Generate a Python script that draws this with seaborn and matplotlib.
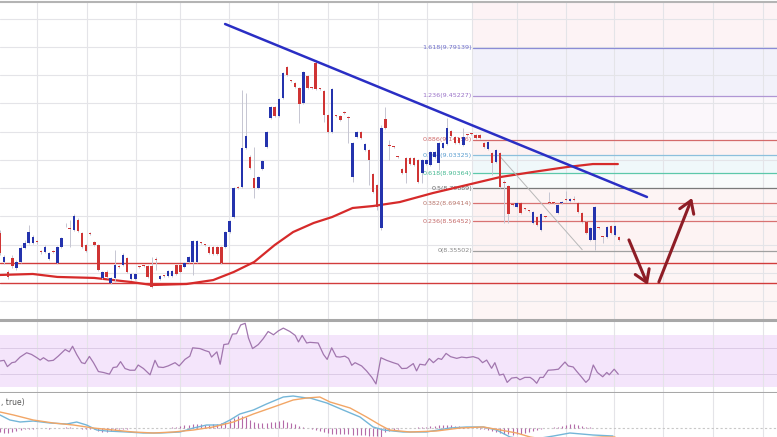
"""
Candlestick chart with Fibonacci levels, RSI and MACD panels.
"""
import numpy as np
import pandas as pd
import matplotlib
matplotlib.use('Agg')
import matplotlib.pyplot as plt
import seaborn as sns

# ---- price candles (open, high, low, close), one per bar index ----
opens = [8.482, 8.277, 8.206, 8.305, 8.234, 8.277, 8.376, 8.411, 8.411, 8.420,
         8.350, 8.348, 8.298, 8.350, 8.270, 8.383, 8.542, 8.512, 8.503, 8.574,
         8.482, 8.397, 8.477, 8.418, 8.397, 8.164, 8.206, 8.128, 8.164, 8.243,
         8.256, 8.305, 8.157, 8.157, 8.243, 8.251, 8.249, 8.249, 8.293, 8.157,
         8.180, 8.178, 8.178, 8.256, 8.256, 8.241, 8.277, 8.277, 8.277, 8.413,
         8.399, 8.383, 8.383, 8.383, 8.383, 8.383, 8.489, 8.595, 8.803, 8.808,
         9.084, 9.020, 8.871, 8.801, 8.935, 9.091, 9.296, 9.374, 9.310, 9.437,
         9.657, 9.560, 9.544, 9.508, 9.402, 9.593, 9.510, 9.685, 9.503, 9.487,
         9.317, 9.197, 9.312, 9.310, 9.338, 9.303, 8.878, 9.161, 9.197, 9.069,
         9.069, 8.900, 8.822, 8.517, 9.289, 9.100, 9.093, 9.022, 8.935, 9.013,
         9.013, 9.013, 8.999, 8.907, 8.970, 8.963, 9.020, 8.977, 9.084, 9.112,
         9.204, 9.161, 9.154, 9.105, 9.178, 9.185, 9.176, 9.176, 9.119, 9.077,
         9.048, 8.985, 9.048, 8.838, 8.815, 8.682, 8.666, 8.694, 8.654, 8.640,
         8.553, 8.595, 8.503, 8.597, 8.696, 8.697, 8.624, 8.694, 8.718, 8.709,
         8.723, 8.694, 8.624, 8.560, 8.433, 8.433, 8.519, 8.456, 8.454, 8.532,
         8.468, 8.454]
highs = [8.503, 8.326, 8.220, 8.326, 8.291, 8.390, 8.433, 8.539, 8.468, 8.433,
         8.362, 8.397, 8.348, 8.362, 8.390, 8.454, 8.553, 8.574, 8.617, 8.588,
         8.489, 8.404, 8.489, 8.425, 8.404, 8.213, 8.220, 8.171, 8.362, 8.256,
         8.341, 8.312, 8.199, 8.199, 8.249, 8.256, 8.256, 8.312, 8.312, 8.185,
         8.185, 8.220, 8.220, 8.263, 8.263, 8.277, 8.319, 8.433, 8.433, 8.418,
         8.404, 8.390, 8.390, 8.390, 8.390, 8.496, 8.574, 8.808, 8.815, 9.494,
         9.473, 9.034, 9.091, 8.885, 8.999, 9.204, 9.381, 9.381, 9.437, 9.621,
         9.664, 9.565, 9.551, 9.515, 9.628, 9.600, 9.515, 9.706, 9.508, 9.494,
         9.324, 9.508, 9.317, 9.317, 9.345, 9.310, 9.126, 9.204, 9.204, 9.119,
         9.077, 8.907, 8.829, 9.247, 9.374, 9.140, 9.098, 9.027, 8.942, 9.020,
         9.020, 9.020, 9.006, 9.006, 9.006, 9.062, 9.062, 9.126, 9.126, 9.296,
         9.211, 9.169, 9.161, 9.225, 9.183, 9.190, 9.183, 9.183, 9.126, 9.133,
         9.055, 9.077, 9.055, 8.857, 8.822, 8.687, 8.701, 8.701, 8.659, 8.645,
         8.638, 8.602, 8.624, 8.602, 8.772, 8.701, 8.687, 8.709, 8.779, 8.730,
         8.744, 8.701, 8.631, 8.567, 8.525, 8.673, 8.525, 8.461, 8.532, 8.539,
         8.539, 8.461]
lows = [8.326, 8.263, 8.157, 8.234, 8.220, 8.270, 8.369, 8.404, 8.404, 8.404,
        8.333, 8.341, 8.291, 8.341, 8.263, 8.376, 8.525, 8.383, 8.496, 8.489,
        8.376, 8.348, 8.468, 8.390, 8.213, 8.157, 8.164, 8.121, 8.135, 8.234,
        8.249, 8.199, 8.150, 8.150, 8.234, 8.241, 8.164, 8.093, 8.220, 8.150,
        8.171, 8.171, 8.171, 8.185, 8.199, 8.234, 8.270, 8.185, 8.270, 8.404,
        8.390, 8.333, 8.326, 8.326, 8.263, 8.376, 8.482, 8.588, 8.794, 8.801,
        9.077, 8.935, 8.730, 8.794, 8.928, 9.084, 9.289, 9.303, 9.303, 9.430,
        9.593, 9.551, 9.508, 9.261, 9.395, 9.501, 9.501, 9.494, 9.494, 9.268,
        9.190, 9.190, 9.303, 9.275, 9.324, 9.119, 8.843, 9.154, 9.147, 9.062,
        8.822, 8.765, 8.645, 8.503, 9.218, 8.999, 9.084, 9.013, 8.900, 8.836,
        8.963, 8.956, 8.836, 8.836, 8.963, 8.956, 9.013, 8.928, 9.077, 9.105,
        9.161, 9.112, 9.112, 9.098, 9.169, 9.176, 9.147, 9.147, 9.084, 9.069,
        8.893, 8.977, 8.801, 8.553, 8.553, 8.673, 8.659, 8.617, 8.645, 8.631,
        8.546, 8.532, 8.496, 8.588, 8.687, 8.687, 8.617, 8.687, 8.709, 8.701,
        8.709, 8.624, 8.553, 8.475, 8.425, 8.362, 8.510, 8.411, 8.447, 8.475,
        8.461, 8.425]
closes = [8.341, 8.312, 8.171, 8.249, 8.277, 8.376, 8.411, 8.489, 8.454, 8.416,
          8.346, 8.383, 8.341, 8.346, 8.383, 8.447, 8.536, 8.508, 8.602, 8.496,
          8.383, 8.355, 8.473, 8.397, 8.220, 8.206, 8.171, 8.164, 8.256, 8.239,
          8.326, 8.206, 8.192, 8.192, 8.239, 8.247, 8.171, 8.100, 8.289, 8.178,
          8.176, 8.213, 8.213, 8.192, 8.206, 8.270, 8.312, 8.425, 8.425, 8.409,
          8.395, 8.341, 8.333, 8.333, 8.270, 8.489, 8.567, 8.801, 8.799, 9.084,
          9.169, 8.942, 8.801, 8.878, 8.992, 9.197, 9.374, 9.310, 9.430, 9.614,
          9.600, 9.556, 9.515, 9.395, 9.621, 9.508, 9.506, 9.501, 9.499, 9.317,
          9.197, 9.501, 9.308, 9.282, 9.331, 9.296, 9.119, 9.197, 9.154, 9.112,
          8.999, 8.772, 8.666, 9.225, 9.225, 9.096, 9.089, 9.018, 8.907, 8.907,
          8.970, 8.963, 8.843, 8.999, 8.999, 9.055, 9.055, 9.119, 9.119, 9.225,
          9.169, 9.119, 9.119, 9.161, 9.174, 9.181, 9.154, 9.154, 9.091, 9.126,
          8.977, 9.069, 8.808, 8.834, 8.617, 8.678, 8.694, 8.624, 8.650, 8.636,
          8.631, 8.539, 8.617, 8.593, 8.692, 8.692, 8.680, 8.701, 8.714, 8.723,
          8.716, 8.631, 8.560, 8.482, 8.517, 8.666, 8.515, 8.452, 8.525, 8.482,
          8.532, 8.433]

# moving average (red curve), read at bar positions
sma_idx = [0, 8, 14, 23, 32, 37, 45.5, 52, 57, 62, 67, 71.5, 76.5, 81, 86, 91,
           97.5, 105.6, 113.9, 122, 130, 138.3, 144.6, 150.7]
sma_val = [8.185, 8.192, 8.171, 8.164, 8.135, 8.114, 8.121, 8.149, 8.206, 8.277,
           8.397, 8.489, 8.553, 8.595, 8.659, 8.673, 8.701, 8.765, 8.822, 8.878,
           8.914, 8.949, 8.970, 8.970]

# Fibonacci levels
fib_ratios = ['0', '0.236', '0.382', '0.5', '0.618', '0.764', '0.886', '1.236', '1.618']
fib_prices = [8.35502, 8.56452, 8.69414, 8.79889, 8.90364, 9.03325, 9.14156, 9.45227, 9.79139]
fib_colors = ['#a0a0a0', '#d87272', '#d87272', '#7a7a7a', '#5cc8aa', '#8cc0dc',
              '#d46a6a', '#b096d4', '#8c8cd6']
fib_text_colors = ['#888888', '#c46a6a', '#b8746a', '#666666', '#44b890', '#5a9ed0',
                   '#d06a6a', '#9a72c8', '#7070cc']
fib_band_colors = ['#fdf3f3', '#fdf2f2', '#fdf4f4', '#f8fbfb', '#f0f8fa', '#fdf2f2',
                   '#fbf7fb', '#f2f1fa']
fib_top_color = '#fdf3f5'
fib_below_color = '#fdf5f5'
fib_start = 115.4

support_prices = [8.270, 8.128]
trend_idx = [54.9, 157.8]
trend_price = [9.961, 8.737]
retrace_idx = [122, 142]
retrace_price = [9.022, 8.364]
arrow_down_idx = [153.4, 158.0]
arrow_down_price = [8.433, 8.114]
arrow_up_idx = [160.7, 168.8]
arrow_up_price = [8.135, 8.730]

grid_idx = [9.0, 21.2, 33.2, 43.9, 55.9, 67.8, 80.0, 92.2, 104.1, 115.1, 126.1,
            138.0, 149.8, 161.7, 173.9, 186.1]
price_grid = [7.8, 8.0, 8.2, 8.4, 8.6, 8.8, 9.0, 9.2, 9.4, 9.6, 9.8, 10.0]

# RSI
rsi_idx = [0, 1.0, 1.8, 2.9, 3.7, 4.9, 6.5, 7.7, 9.0, 9.8, 10.6, 11.8, 13.0, 14.2,
           15.9, 16.9, 17.7, 18.7, 19.9, 20.7, 21.8, 22.8, 24.0, 25.2, 26.7, 27.6,
           28.5, 29.4, 30.5, 31.7, 32.9, 33.7, 35.0, 36.6, 37.8, 38.6, 39.8, 41.0,
           42.7, 43.7, 45.1, 46.3, 47.0, 48.8, 50.0, 51.0, 51.6, 52.9, 53.7, 54.6,
           55.7, 56.7, 57.7, 58.7, 59.8, 60.6, 61.6, 63.0, 64.2, 65.4, 66.7, 67.9,
           69.1, 70.7, 72.0, 72.8, 73.7, 74.8, 75.6, 77.6, 78.9, 79.8, 80.9, 82.0,
           82.9, 84.1, 85.0, 85.8, 86.6, 88.2, 89.4, 90.7, 91.7, 92.9, 94.3, 95.9,
           97.1, 98.0, 99.2, 100.8, 101.6, 102.4, 103.7, 104.7, 105.7, 106.9, 107.7,
           108.8, 109.9, 111.4, 112.6, 113.8, 115.4, 116.7, 117.7, 118.7, 119.9,
           120.7, 121.8, 122.8, 123.7, 124.8, 126.0, 126.8, 128.0, 129.3, 130.1,
           130.9, 131.7, 132.5, 133.7, 135.0, 136.2, 137.8, 138.6, 139.8, 140.7,
           141.6, 142.9, 143.7, 144.7, 145.7, 147.0, 148.0, 148.6, 149.8, 150.8]
rsi_val = [49.9, 50.4, 45.6, 48.6, 49.1, 52.9, 56.2, 54.9, 52.4, 50.6, 52.4, 49.9,
           50.4, 53.6, 58.7, 56.9, 61.2, 54.9, 48.6, 47.9, 53.4, 48.6, 41.8, 41.1,
           39.8, 44.9, 45.3, 49.4, 44.1, 42.8, 42.8, 46.8, 44.1, 39.3, 50.4, 45.3,
           44.9, 46.1, 48.6, 46.1, 51.1, 53.6, 60.0, 59.4, 57.9, 56.9, 52.9, 56.9,
           47.4, 62.5, 63.0, 70.5, 70.8, 77.5, 78.8, 67.5, 59.4, 62.5, 67.0, 72.5,
           70.0, 73.0, 75.1, 72.5, 69.5, 64.5, 69.5, 63.7, 64.2, 63.7, 54.9, 51.1,
           60.0, 53.2, 52.9, 53.6, 51.9, 46.6, 48.6, 46.1, 42.3, 37.3, 32.3, 52.4,
           50.4, 48.6, 47.4, 44.1, 44.3, 47.9, 42.3, 47.4, 46.8, 51.7, 48.6, 51.9,
           51.1, 55.7, 53.2, 51.9, 52.9, 52.4, 53.2, 51.9, 48.6, 50.6, 44.3, 48.6,
           39.1, 39.8, 33.5, 36.8, 37.3, 35.5, 37.3, 37.3, 35.5, 32.8, 37.3, 37.3,
           42.8, 43.1, 43.6, 49.1, 46.1, 45.3, 41.8, 38.5, 33.5, 36.0, 46.8, 41.1,
           37.8, 41.1, 39.3, 43.6, 39.8]

# MACD
macd_idx = [0, 2.4, 4.9, 8.1, 12.2, 16.3, 18.7, 21.1, 23.6, 26, 31, 35, 39, 43.9,
            47.2, 50.4, 53.7, 56.1, 58.5, 61.8, 65, 69.1, 71.5, 74.8, 75.6, 79.7,
            83.7, 87.8, 91, 93.5, 98.3, 104, 109.8, 113.8, 117.9, 121.1, 124.4,
            129, 135, 139, 144.6, 149.5]
macd_val = [0.026, 0.016, 0.012, 0.014, 0.010, 0.008, 0.012, 0.006, -0.004, -0.006,
            -0.008, -0.010, -0.010, -0.008, 0.000, 0.006, 0.006, 0.016, 0.028, 0.036,
            0.048, 0.062, 0.064, 0.060, 0.060, 0.050, 0.036, 0.022, 0.002, -0.004,
            -0.008, -0.008, 0.000, 0.002, 0.002, -0.004, -0.018, -0.024, -0.016,
            -0.010, -0.014, -0.016]
signal_idx = [0, 3.3, 8.1, 13, 17.9, 22.7, 27.6, 32.5, 37.4, 42.3, 47.2, 52, 56.9,
              61.8, 66.7, 71.5, 74.8, 78, 80.5, 85.4, 89.4, 92.7, 95, 100, 106.5,
              112.2, 117.9, 122, 126, 129.3, 134, 147, 150]
signal_val = [0.032, 0.026, 0.016, 0.010, 0.006, 0.000, -0.004, -0.008, -0.010,
              -0.008, -0.004, 0.002, 0.012, 0.028, 0.042, 0.056, 0.060, 0.062, 0.052,
              0.040, 0.022, 0.006, -0.004, -0.008, -0.006, 0.000, 0.002, -0.004,
              -0.010, -0.018, -0.024, -0.018, -0.018]
hist_val = [-0.008, -0.010, -0.010, -0.008, -0.006, -0.004, -0.002, -0.002, -0.002,
            0.000, 0.000, 0.000, -0.002, 0.000, 0.000, 0.000, 0.002, 0.002, 0.000,
            0.000, -0.002, -0.002, -0.002, -0.002, -0.006, -0.008, -0.008, -0.006,
            -0.004, -0.002, -0.002, -0.002, 0.000, 0.000, 0.000, 0.000, 0.000, 0.000,
            0.000, 0.000, 0.000, 0.000, 0.002, 0.002, 0.004, 0.006, 0.006, 0.008,
            0.008, 0.008, 0.006, 0.006, 0.008, 0.008, 0.010, 0.012, 0.016, 0.020,
            0.024, 0.024, 0.022, 0.016, 0.012, 0.010, 0.010, 0.010, 0.012, 0.012,
            0.014, 0.016, 0.012, 0.010, 0.008, 0.004, 0.002, 0.000, -0.002, -0.004,
            -0.006, -0.008, -0.010, -0.012, -0.012, -0.012, -0.012, -0.012, -0.014,
            -0.014, -0.014, -0.014, -0.016, -0.016, -0.016, -0.018, -0.008, -0.006,
            -0.004, -0.002, 0.000, 0.000, 0.000, 0.000, 0.002, 0.002, 0.002, 0.004,
            0.004, 0.006, 0.006, 0.006, 0.006, 0.004, 0.004, 0.002, 0.000, 0.000,
            0.000, -0.002, -0.002, -0.004, -0.006, -0.008, -0.010, -0.012, -0.012,
            -0.014, -0.012, -0.012, -0.010, -0.008, -0.006, -0.004, -0.002, 0.000,
            0.000, 0.002, 0.002, 0.004, 0.006, 0.008, 0.008, 0.006, 0.004, 0.002,
            0.002, 0.000, 0.000, 0.000, 0.000, 0.000, 0.000, 0.000]

sns.set_style('white')
plt.rcParams['font.family'] = ['DejaVu Sans']

W, H = 777, 437
fig = plt.figure(figsize=(W / 100, H / 100), dpi=100)
ax = fig.add_axes([0, 1 - 320 / H, 1, 318 / H])
ax_rsi = fig.add_axes([0, 1 - 393 / H, 1, 73 / H])
ax_macd = fig.add_axes([0, 0, 1, 44 / H])

XMAX = W / 4.1
grid_color = '#e4e4e8'

# ---- main price panel ----
ax.set_xlim(0, XMAX)
ax.set_ylim(10.131 - 320 / 141.3, 10.131 - 2 / 141.3)

# fibonacci shaded bands (right part)
ax.axhspan(fib_prices[-1], 10.2, xmin=fib_start / XMAX, xmax=1, color=fib_top_color, lw=0, zorder=0)
ax.axhspan(7.8, fib_prices[0], xmin=fib_start / XMAX, xmax=1, color=fib_below_color, lw=0, zorder=0)
for k in range(len(fib_prices) - 1):
    ax.axhspan(fib_prices[k], fib_prices[k + 1], xmin=fib_start / XMAX, xmax=1,
               color=fib_band_colors[k], lw=0, zorder=0)

for g in grid_idx:
    ax.axvline(g, color=grid_color, lw=0.8, zorder=0.5)
for p in price_grid:
    ax.axhline(p, color=grid_color, lw=0.8, zorder=0.5)

for r, p, c, tc in zip(fib_ratios, fib_prices, fib_colors, fib_text_colors):
    ax.plot([fib_start, XMAX], [p, p], color=c, lw=0.9, zorder=1)
    ax.text(fib_start - 0.3, p, f'{r}({p:.5f})', ha='right', va='center',
            fontsize=4.6, color=tc, zorder=2)

for p in support_prices:
    ax.axhline(p, color='#d23c3c', lw=1.0, zorder=1.2)

sma_df = pd.DataFrame({'idx': sma_idx, 'val': sma_val})
sns.lineplot(data=sma_df, x='idx', y='val', ax=ax, color='#d62a2a', lw=1.6,
             sort=False, estimator=None, zorder=2)

ax.plot(retrace_idx, retrace_price, color='#b8b8b8', lw=0.7, zorder=2)

# candles
df = pd.DataFrame({'open': opens, 'high': highs, 'low': lows, 'close': closes})
df['idx'] = np.arange(len(df))
up = df['close'] >= df['open']
colors = np.where(up, '#2433ad', '#cf3434')
ax.vlines(df['idx'], df['low'], df['high'], color='#c6c6d2', lw=0.7, zorder=2.5)
body_low = np.minimum(df['open'], df['close'])
body_h = np.maximum((df['close'] - df['open']).abs(), 0.006)
ax.bar(df['idx'], body_h, bottom=body_low, width=0.62, color=colors, lw=0, zorder=3)

ax.plot(trend_idx, trend_price, color='#2a2ec4', lw=1.8, zorder=4,
        solid_capstyle='round')

arrow_style = dict(arrowstyle='->,head_length=0.7,head_width=0.45', color='#8e1d26',
                   lw=2.2, mutation_scale=12, shrinkA=0, shrinkB=0)
ax.annotate('', xy=(arrow_down_idx[1], arrow_down_price[1]),
            xytext=(arrow_down_idx[0], arrow_down_price[0]), arrowprops=arrow_style, zorder=5)
ax.annotate('', xy=(arrow_up_idx[1], arrow_up_price[1]),
            xytext=(arrow_up_idx[0], arrow_up_price[0]), arrowprops=arrow_style, zorder=5)

for s in ['left', 'right', 'bottom']:
    ax.spines[s].set_visible(False)
ax.spines['top'].set_color('#b4b4b4')
ax.spines['top'].set_linewidth(1.5)
ax.set_xticks([])
ax.set_yticks([])
ax.set_xlabel('')
ax.set_ylabel('')

# ---- RSI panel ----
ax_rsi.set_xlim(0, XMAX)
ax_rsi.set_ylim(50 - 32.0 / 1.325 - 0.5, 50 + 41.5 / 1.325)
ax_rsi.axhspan(30, 70, color='#f4e5fb', lw=0, zorder=0)
for g in grid_idx:
    ax_rsi.axvline(g, color=grid_color, lw=0.8, zorder=0.5)
for lvl in [40, 60]:
    ax_rsi.axhline(lvl, color='#dccbe6', lw=0.7, zorder=0.6)
rsi_df = pd.DataFrame({'idx': rsi_idx, 'val': rsi_val})
sns.lineplot(data=rsi_df, x='idx', y='val', ax=ax_rsi, color='#a176ae', lw=0.9,
             sort=False, estimator=None, zorder=2)
for s in ['left', 'right']:
    ax_rsi.spines[s].set_visible(False)
for s in ['top', 'bottom']:
    ax_rsi.spines[s].set_color('#a8a8a8')
    ax_rsi.spines[s].set_linewidth(2.2)
ax_rsi.set_xticks([])
ax_rsi.set_yticks([])
ax_rsi.set_xlabel('')
ax_rsi.set_ylabel('')

# ---- MACD panel ----
ax_macd.set_xlim(0, XMAX)
ax_macd.set_ylim(-0.018, 0.070)
for g in grid_idx:
    ax_macd.axvline(g, color=grid_color, lw=0.8, zorder=0.5)
ax_macd.axhline(0, color='#c8c8c8', lw=0.8, ls=(0, (2, 2)), zorder=0.6)
ax_macd.vlines(np.arange(len(hist_val)), 0, hist_val, color='#b46aa8', lw=0.8, zorder=1)
macd_df = pd.DataFrame({'idx': macd_idx, 'val': macd_val})
sig_df = pd.DataFrame({'idx': signal_idx, 'val': signal_val})
sns.lineplot(data=macd_df, x='idx', y='val', ax=ax_macd, color='#74b6d8', lw=1.0,
             sort=False, estimator=None, zorder=2)
sns.lineplot(data=sig_df, x='idx', y='val', ax=ax_macd, color='#f2a666', lw=1.0,
             sort=False, estimator=None, zorder=2)
for s in ['left', 'right', 'top', 'bottom']:
    ax_macd.spines[s].set_visible(False)
ax_macd.set_xticks([])
ax_macd.set_yticks([])
ax_macd.set_xlabel('')
ax_macd.set_ylabel('')
# indicator caption: only its tail is visible at the left edge
fig.text(1 / W, 1 - 403 / H, ', true)', ha='left', va='center',
         fontsize=5.5, color='#555555')

fig.savefig('out.png', dpi=100)
